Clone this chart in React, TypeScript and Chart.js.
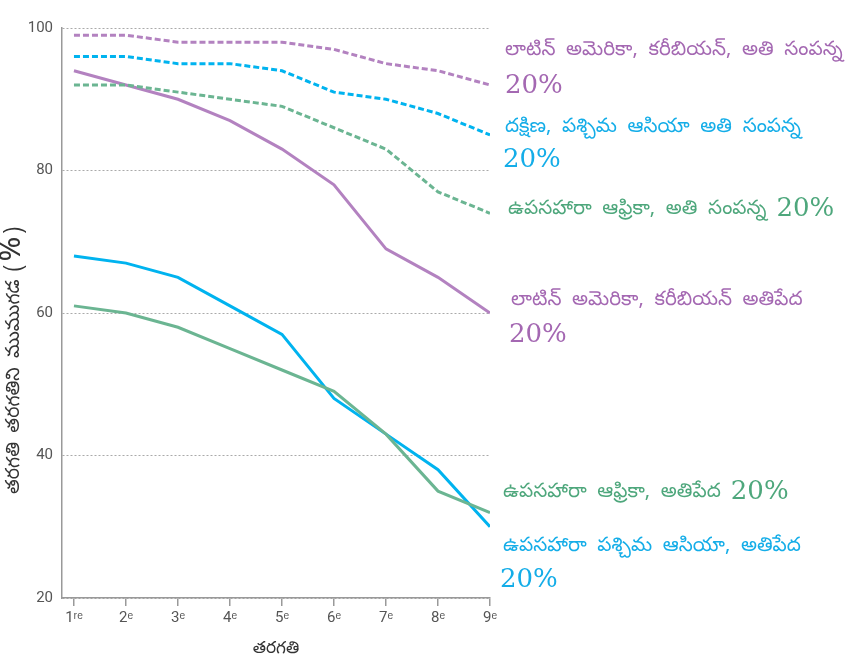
import { useEffect, useRef } from "react";
import { Chart, registerables } from "chart.js";

Chart.register(...registerables);

// ---------- data ----------
const gradeValues = [1, 2, 3, 4, 5, 6, 7, 8, 9];
const gradeLabels = ["1ʳᵉ", "2ᵉ", "3ᵉ", "4ᵉ", "5ᵉ", "6ᵉ", "7ᵉ", "8ᵉ", "9ᵉ"];
const yTickValues = [20, 40, 60, 80, 100];

const latamRichest = [99, 99, 98, 98, 98, 97, 95, 94, 92];
const swAsiaRichest = [96, 96, 95, 95, 94, 91, 90, 88, 85];
const ssAfricaRichest = [92, 92, 91, 90, 89, 86, 83, 77, 74];
const latamPoorest = [94, 92, 90, 87, 83, 78, 69, 65, 60];
const swAsiaPoorest = [68, 67, 65, 61, 57, 48, 43, 38, 30];
const ssAfricaPoorest = [61, 60, 58, 55, 52, 49, 43, 35, 32];

const seriesNames = [
  "లాటిన్ అమెరికా, కరీబియన్, అతి సంపన్న",
  "దక్షిణ, పశ్చిమ ఆసియా అతి సంపన్న",
  "ఉపసహారా ఆఫ్రికా, అతి సంపన్న",
  "లాటిన్ అమెరికా, కరీబియన్ అతిపేద",
  "ఉపసహారా ఆఫ్రికా, అతిపేద",
  "ఉపసహారా పశ్చిమ ఆసియా, అతిపేద",
];
const shareLabel = "20%";
const xTitle = "తరగతి";
const yTitle = "తరగతి తరగతిని ముముగడ";
const yTitleUnit = "%";

// ---------- styles ----------
const PURPLE = "#b382c0";
const BLUE = "#00b3ef";
const GREEN = "#6bb592";
const PURPLE_TXT = "#a468b2";
const BLUE_TXT = "#14ade8";
const GREEN_TXT = "#4ea77c";
const TELUGU_FONT = "'Noto Sans Telugu', 'Noto Sans', sans-serif";
const SERIF_FONT = "'DejaVu Serif', 'Liberation Serif', serif";
const TICK_FONT = "'Liberation Sans Narrow', 'Roboto', sans-serif";
const LABEL_SIZE = 20;

const toPoints = (vals: number[]) => vals.map((v, i) => ({ x: gradeValues[i], y: v }));

// label layout: [series index, color, dx from chart right, y of first line, second line y (or null for inline), dx of second line]
const labelLayout: Array<[number, string, number, number, number | null, number]> = [
  [0, PURPLE_TXT, 15, 52, 86, 15],
  [1, BLUE_TXT, 15, 129, 160, 13],
  [2, GREEN_TXT, 18, 211, null, 0],
  [3, PURPLE_TXT, 21, 302, 335, 19],
  [4, GREEN_TXT, 13, 494, null, 0],
  [5, BLUE_TXT, 13, 548, 580, 10],
];

const labelsPlugin = {
  id: "seriesLabels",
  afterDraw(chart: any) {
    const ctx = chart.ctx;
    const area = chart.chartArea;
    ctx.save();
    ctx.textBaseline = "middle";
    ctx.textAlign = "left";
    (ctx as any).wordSpacing = "5px";
    for (const [idx, color, dx, y1, y2, dx2] of labelLayout) {
      const x = area.right + dx;
      ctx.fillStyle = color;
      ctx.font = `${LABEL_SIZE}px ${TELUGU_FONT}`;
      const name = seriesNames[idx];
      ctx.fillText(name, x, y1);
      if (y2 === null) {
        const w = ctx.measureText(name).width;
        ctx.font = `26px ${SERIF_FONT}`;
        ctx.fillText(shareLabel, x + w + 10, y1 - 2);
      } else {
        ctx.font = `26px ${SERIF_FONT}`;
        ctx.fillText(shareLabel, area.right + dx2, y2);
      }
    }
    (ctx as any).wordSpacing = "0px";
    // y-axis title
    ctx.translate(16, 494);
    ctx.rotate(-Math.PI / 2);
    ctx.fillStyle = "#333";
    ctx.font = `19px ${TELUGU_FONT}`;
    (ctx as any).wordSpacing = "4px";
    ctx.fillText(yTitle, 0, 0);
    let cx = ctx.measureText(yTitle).width + 8;
    (ctx as any).wordSpacing = "0px";
    ctx.fillText("(", cx, 0);
    cx += ctx.measureText("(").width + 3;
    ctx.font = `30px ${TELUGU_FONT}`;
    ctx.fillText(yTitleUnit, cx, 0);
    cx += ctx.measureText(yTitleUnit).width + 3;
    ctx.font = `19px ${TELUGU_FONT}`;
    ctx.fillText(")", cx, 0);
    ctx.restore();
  },
};

export default function App() {
  const ref = useRef<HTMLCanvasElement>(null);
  useEffect(() => {
    document.body.style.margin = "0";
    const mk = (label: string, vals: number[], color: string, dashed: boolean) => ({
      label,
      data: toPoints(vals),
      borderColor: color,
      backgroundColor: color,
      borderWidth: 3,
      borderDash: dashed ? [6, 3] : [],
      pointRadius: 0,
      tension: 0,
      fill: false,
    });
    const chart = new Chart(ref.current!, {
      type: "line",
      data: {
        datasets: [
          mk(seriesNames[0], latamRichest, PURPLE, true),
          mk(seriesNames[1], swAsiaRichest, BLUE, true),
          mk(seriesNames[2], ssAfricaRichest, GREEN, true),
          mk(seriesNames[3], latamPoorest, PURPLE, false),
          mk(seriesNames[4], ssAfricaPoorest, GREEN, false),
          mk(seriesNames[5], swAsiaPoorest, BLUE, false),
        ],
      },
      options: {
        animation: false,
        responsive: false,
        layout: { padding: { top: 28, right: 356, left: 0, bottom: 0 } },
        plugins: { legend: { display: false }, tooltip: { enabled: false } },
        scales: {
          x: {
            type: "linear",
            min: 0.77,
            max: 9,
            afterBuildTicks: (scale: any) => {
              scale.ticks = gradeValues.map((v) => ({ value: v }));
            },
            afterFit: (scale: any) => {
              scale.height = 57;
            },
            ticks: {
              callback: (v: any) => gradeLabels[gradeValues.indexOf(Number(v))] ?? "",
              color: "#555",
              font: { family: TICK_FONT, size: 15 },
              padding: 3,
              maxRotation: 0,
              autoSkip: false,
            },
            grid: {
              display: true,
              drawOnChartArea: false,
              drawTicks: true,
              tickLength: 8,
              color: "#999",
              lineWidth: 1.5,
            },
            border: { display: true, color: "#999", width: 1.5 },
            title: {
              display: true,
              text: xTitle,
              color: "#333",
              font: { family: TELUGU_FONT, size: 17 },
              padding: { top: 0, bottom: -6 },
            },
          },
          y: {
            min: 20,
            max: 100,
            afterBuildTicks: (scale: any) => {
              scale.ticks = yTickValues.map((v) => ({ value: v }));
            },
            afterFit: (scale: any) => {
              scale.width = 62;
            },
            ticks: {
              color: "#555",
              font: { family: TICK_FONT, size: 15 },
              padding: 9,
            },
            grid: {
              color: "#aaa",
              lineWidth: 1,
              drawTicks: false,
            },
            border: { display: true, color: "#999", width: 1.5, dash: [2, 2] },
          },
        },
      },
      plugins: [labelsPlugin],
    } as any);
    return () => chart.destroy();
  }, []);
  return (
    <div style={{ width: 846, height: 655 }}>
      <canvas ref={ref} width={846} height={655} style={{ display: "block" }} />
    </div>
  );
}
